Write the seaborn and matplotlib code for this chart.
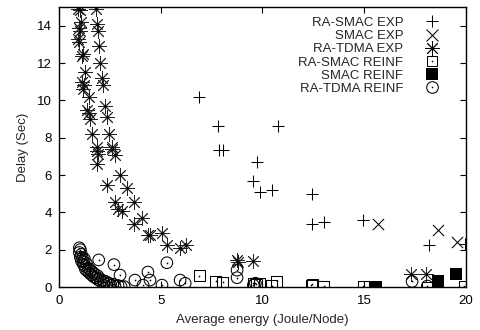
import numpy as np
import pandas as pd
import matplotlib
matplotlib.use("Agg")
import matplotlib.pyplot as plt
import seaborn as sns
from matplotlib.lines import Line2D
from matplotlib.legend_handler import HandlerTuple
from matplotlib.markers import MarkerStyle

# ---------------- data ----------------
series_labels = ["RA-SMAC EXP", "SMAC EXP", "RA-TDMA EXP",
                 "RA-SMAC REINF", "SMAC REINF", "RA-TDMA REINF"]

ra_smac_exp_x = [6.9, 7.8, 7.85, 8.05, 9.73, 9.53, 9.88, 10.47, 10.76, 12.43, 12.43, 13.0, 14.94, 18.2, 19.95]
ra_smac_exp_y = [10.2, 8.6, 7.35, 7.35, 6.7, 5.67, 5.1, 5.2, 8.6, 5.0, 3.37, 3.5, 3.6, 2.25, 2.3]

smac_exp_x = [15.7, 18.6, 19.55]
smac_exp_y = [3.37, 3.05, 2.4]

ra_tdma_exp_x = [0.95, 1.05, 1.8, 1.1, 1.85, 1.0, 1.05, 1.9, 0.95, 1.0, 1.95, 1.2, 1.15, 2.0,
                 1.3, 1.15, 1.25, 1.2, 2.1, 2.15, 1.45, 2.25, 1.4, 1.45, 1.5, 2.35, 1.6, 2.45,
                 1.85, 2.6, 1.85, 1.9, 2.6, 2.75, 1.85, 3.0, 2.35, 3.35, 2.75, 2.9, 3.1, 3.7,
                 3.7, 4.1, 4.35, 4.45, 5.05, 5.3, 5.95, 6.25, 8.75, 8.8, 9.55, 17.3, 18.05]
ra_tdma_exp_y = [14.9, 14.85, 14.9, 14.2, 14.1, 13.9, 13.7, 13.7, 13.3, 13.1, 12.9, 12.5, 12.4, 12.0,
                 11.5, 11.0, 10.8, 10.6, 11.2, 10.8, 10.2, 9.7, 9.5, 9.3, 9.0, 9.1, 8.2, 8.2,
                 7.5, 7.5, 7.3, 7.1, 7.4, 7.05, 6.6, 6.0, 5.45, 5.3, 4.55, 4.2, 4.05, 4.55,
                 3.4, 3.7, 2.8, 2.8, 2.9, 2.25, 2.1, 2.25, 1.45, 1.35, 1.4, 0.7, 0.7]

ra_smac_reinf_x = [6.9, 7.7, 8.05, 9.55, 9.7, 9.85, 10.45, 10.7, 12.4, 12.45, 13.0, 14.95, 18.1, 19.9]
ra_smac_reinf_y = [0.6, 0.3, 0.27, 0.2, 0.15, 0.2, 0.07, 0.3, 0.1, 0.15, 0.05, 0.05, 0.0, 0.05]

smac_reinf_x = [15.6, 18.6, 19.5]
smac_reinf_y = [0.0, 0.3, 0.7]

ra_tdma_reinf_x = [1.0, 1.05, 1.0, 1.1, 1.05, 1.15, 1.1, 1.2, 1.25, 1.2, 1.3, 1.35, 1.3, 1.45,
                   1.4, 1.5, 1.55, 1.6, 1.65, 1.7, 1.75, 1.8, 1.9, 1.9, 2.0, 2.05, 2.15, 2.2,
                   2.3, 2.35, 2.45, 2.55, 2.65, 2.75, 2.9, 3.05, 3.2, 1.95, 2.7, 3.0, 4.37,
                   5.3, 3.73, 4.47, 4.13, 5.06, 5.95, 6.2, 8.75, 8.75, 9.55, 9.65, 17.35, 18.1]
ra_tdma_reinf_y = [2.1, 2.0, 1.85, 1.75, 1.6, 1.55, 1.4, 1.35, 1.5, 1.2, 1.1, 1.25, 0.95, 1.0,
                   0.85, 0.75, 0.9, 0.65, 0.8, 0.55, 0.7, 0.5, 0.6, 0.4, 0.45, 0.3, 0.35, 0.25,
                   0.3, 0.15, 0.2, 0.1, 0.15, 0.05, 0.08, 0.02, 0.02, 1.45, 1.2, 0.64, 0.8,
                   1.3, 0.37, 0.37, 0.1, 0.1, 0.37, 0.2, 0.9, 0.5, 0.1, 0.2, 0.3, 0.05]

x_ticks = [0, 5, 10, 15, 20]
y_ticks = [0, 2, 4, 6, 8, 10, 12, 14]
x_label = "Average energy (Joule/Node)"
y_label = "Delay (Sec)"

# ---------------- styling ----------------
sns.set_style("ticks")
plt.rcParams["font.family"] = ["Liberation Sans", "DejaVu Sans"]
FS = 9.5
plt.rcParams["font.size"] = FS

fig = plt.figure(figsize=(4.81, 3.30), dpi=100)
ax = fig.add_axes([59 / 481, 1 - 287 / 330, (466 - 59) / 481, (287 - 7) / 330])

K = "black"
LW = 0.75
asterisk = MarkerStyle((8, 2, 0))
S_PLUS, S_X, S_AST, S_SQ, S_FSQ, S_CIR = 75, 65, 105, 60, 85, 70

sns.scatterplot(x=ra_smac_exp_x, y=ra_smac_exp_y, ax=ax, marker="+", color=K, s=S_PLUS, linewidth=LW)
sns.scatterplot(x=smac_exp_x, y=smac_exp_y, ax=ax, marker="x", color=K, s=S_X, linewidth=LW)
sns.scatterplot(x=ra_tdma_exp_x, y=ra_tdma_exp_y, ax=ax, marker=asterisk, color="#222222", s=S_AST, linewidth=0.65)
sns.scatterplot(x=ra_tdma_exp_x, y=ra_tdma_exp_y, ax=ax, marker="o", color=K, s=3, linewidth=0)

sns.scatterplot(x=ra_smac_reinf_x, y=ra_smac_reinf_y, ax=ax, marker="s", color=K, s=S_SQ, linewidth=LW)
ax.collections[-1].set_facecolor("none")
ax.collections[-1].set_edgecolor(K)
sns.scatterplot(x=ra_smac_reinf_x, y=ra_smac_reinf_y, ax=ax, marker="o", color=K, s=1.5, linewidth=0)

sns.scatterplot(x=smac_reinf_x, y=smac_reinf_y, ax=ax, marker="s", color=K, s=S_FSQ, linewidth=0)

sns.scatterplot(x=ra_tdma_reinf_x, y=ra_tdma_reinf_y, ax=ax, marker="o", color=K, s=S_CIR, linewidth=LW)
ax.collections[-1].set_facecolor("none")
ax.collections[-1].set_edgecolor(K)
sns.scatterplot(x=ra_tdma_reinf_x, y=ra_tdma_reinf_y, ax=ax, marker="o", color=K, s=1.5, linewidth=0)

ax.set_xlim(0, 20)
ax.set_ylim(0, 15)
ax.set_xticks(x_ticks)
ax.set_yticks(y_ticks)
ax.set_xlabel(x_label, labelpad=5, fontsize=FS)
ax.set_ylabel(y_label, labelpad=6, fontsize=FS)
ax.tick_params(direction="in", length=4, width=0.8, top=True, right=True,
               labelsize=FS, colors=K)
ax.tick_params(axis="x", pad=6)
ax.tick_params(axis="y", pad=5)
for sp in ax.spines.values():
    sp.set_visible(True)
    sp.set_linewidth(1.0)
    sp.set_color(K)

# ---------------- legend ----------------
def mk(marker, ms, fill=False, mew=LW):
    return Line2D([], [], linestyle="none", marker=marker, markersize=ms,
                  markerfacecolor=K if fill else "none", markeredgecolor=K,
                  markeredgewidth=mew, color=K)

dot = Line2D([], [], linestyle="none", marker="o", markersize=1.2,
             markerfacecolor=K, markeredgecolor=K, markeredgewidth=0)
handles = [
    mk("+", np.sqrt(S_PLUS)),
    mk("x", np.sqrt(S_X)),
    (mk(asterisk, np.sqrt(S_AST), mew=0.65), mk("o", 1.7, fill=True, mew=0)),
    (mk("s", np.sqrt(S_SQ)), dot),
    mk("s", np.sqrt(S_FSQ), fill=True, mew=0),
    (mk("o", np.sqrt(S_CIR)), dot),
]
leg = ax.legend(handles, series_labels, loc="upper right",
                bbox_to_anchor=(0.9396, 0.965), borderpad=0, borderaxespad=0,
                frameon=False, markerfirst=False, handlelength=1.45,
                handletextpad=1.45, labelspacing=0.07, fontsize=FS,
                handler_map={tuple: HandlerTuple(ndivide=1, pad=0)})

fig.savefig("out.png", dpi=100)
